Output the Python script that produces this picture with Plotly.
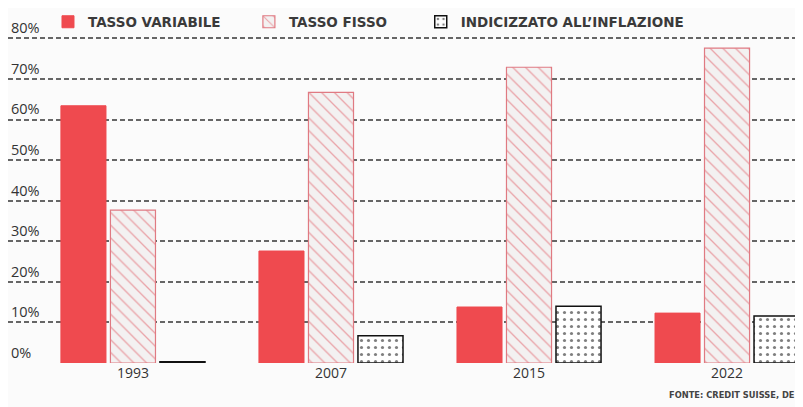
import plotly.graph_objects as go

years = ["1993", "2007", "2015", "2022"]
variabile = [63.4, 27.6, 13.8, 12.3]
fisso = [37.7, 66.7, 72.9, 77.6]
inflazione = [0.3, 6.7, 14.0, 11.6]
tick_vals = [0, 10, 20, 30, 40, 50, 60, 70, 80]
tick_text = ["0%", "10%", "20%", "30%", "40%", "50%", "60%", "70%", "80%"]

RED = "#ef4a4f"
xpos = list(range(len(years)))

fig = go.Figure()
fig.add_trace(go.Bar(
    x=xpos, y=variabile, name="TASSO VARIABILE", legend="legend",
    marker=dict(color=RED, line=dict(color=RED, width=1)),
))
fig.add_trace(go.Bar(
    x=xpos, y=fisso, name="TASSO FISSO", legend="legend2",
    marker=dict(color="#f3f1f1", line=dict(color="#e07a82", width=1.2),
                pattern=dict(shape="\\", fgcolor="#df5560", bgcolor="#f3f1f1",
                             size=9, solidity=0.15)),
))
fig.add_trace(go.Bar(
    x=xpos, y=inflazione, name="INDICIZZATO ALL\u2019INFLAZIONE", legend="legend3",
    marker=dict(color="white", line=dict(color="#111111", width=1.5),
                pattern=dict(shape=".", fgcolor="#000000", bgcolor="white",
                             size=7, solidity=0.16)),
))

legend_font = dict(family="DejaVu Sans", size=13.5, weight=700, color="#3a3a3a")
def leg(x):
    return dict(orientation="h", x=x, xanchor="left",
                y=0.9606, yanchor="middle",
                font=legend_font, bgcolor="rgba(0,0,0,0)", itemwidth=30)

fig.update_layout(
    width=803, height=407,
    margin=dict(l=0, r=0, t=0, b=52, autoexpand=False),
    paper_bgcolor="#fbfbfb", plot_bgcolor="#fbfbfb",
    barmode="group", bargap=0.25, bargroupgap=0.09,
    font=dict(family="Open Sans", color="#333333", size=14),
    showlegend=True,
    legend=leg(0.0498), legend2=leg(0.300), legend3=leg(0.514),
    annotations=[dict(text="FONTE: CREDIT SUISSE, DE", xref="paper", yref="paper",
                      x=0.821, y=-0.090, xanchor="left", yanchor="middle",
                      showarrow=False,
                      font=dict(family="DejaVu Sans", size=8.3, weight=700, color="#444444"))],
)
fig.update_xaxes(
    range=[-0.631, 3.424], tickvals=xpos, ticktext=years,
    showgrid=False, zeroline=False, showline=False, ticks="",
    tickfont=dict(family="Open Sans", size=14, color="#333333"),
)
fig.update_yaxes(
    range=[0, 87.5], tickvals=tick_vals, ticktext=tick_text,
    showgrid=True, gridcolor="#666666", gridwidth=1.5, griddash="5px,3px",
    zeroline=False, showline=False, ticks="",
    ticklabelposition="inside top",
    tickfont=dict(family="Open Sans", size=14.5, color="#333333"),
)

fig.write_html("out.html")
